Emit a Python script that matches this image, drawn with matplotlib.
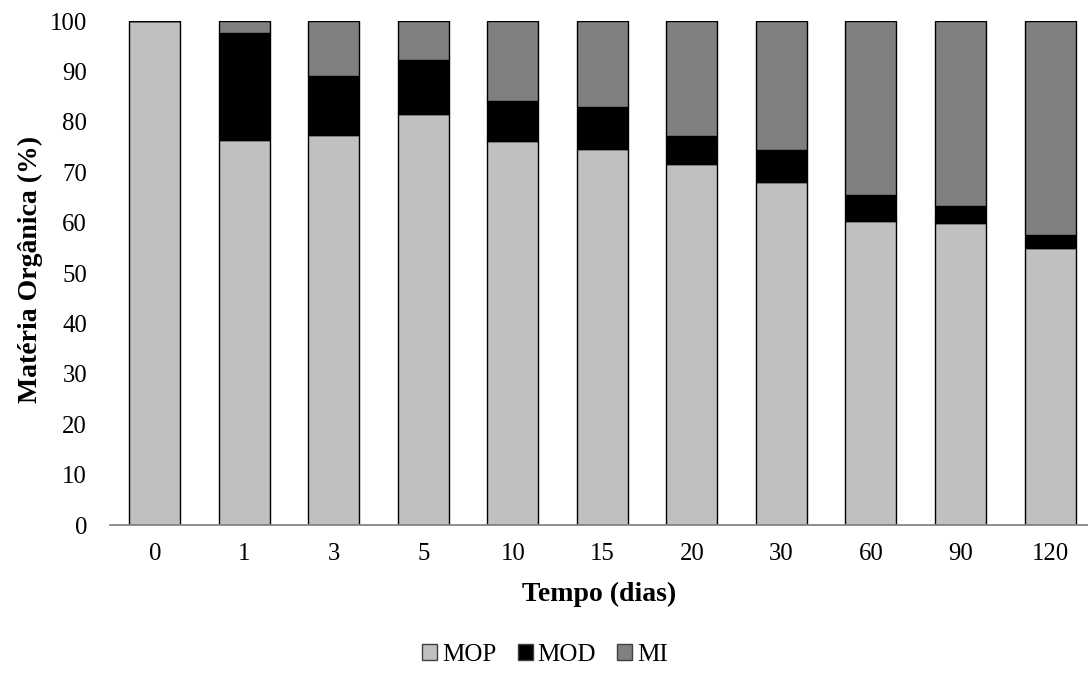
import numpy as np
import matplotlib.pyplot as plt

plt.rcParams['font.family'] = ['Liberation Serif', 'DejaVu Serif']

# tempo (dias)
dias = ['0', '1', '3', '5', '10', '15', '20', '30', '60', '90', '120']
# fracoes de materia organica (%)
mop = [100.0, 76.4, 77.4, 81.5, 76.2, 74.7, 71.6, 68.0, 60.4, 60.0, 54.9]
mod = [0.0, 21.2, 11.7, 10.7, 8.0, 8.3, 5.6, 6.4, 5.1, 3.2, 2.6]
mi = [100 - a - b for a, b in zip(mop, mod)]

W, H = 1088, 681
fig = plt.figure(figsize=(W / 100, H / 100), dpi=100)
ax = fig.add_axes([110 / W, 1 - 525 / H, (W - 110) / W, (525 - 21) / H])

x = np.arange(len(dias))
bw = 0.57
ax.bar(x, mop, bw, color='#c0c0c0', edgecolor='black', linewidth=1, label='MOP')
ax.bar(x, mod, bw, bottom=mop, color='black', edgecolor='black', linewidth=1, label='MOD')
ax.bar(x, mi, bw, bottom=np.add(mop, mod), color='#808080', edgecolor='black',
       linewidth=1, label='MI')

ax.set_xlim(-0.5, 10.5 - 6.8 / 89.6)
ax.set_ylim(0, 100)
ax.set_yticks(range(0, 101, 10))
ax.set_xticks(x)
ax.set_xticklabels(dias)
ax.tick_params(axis='both', length=0, labelsize=17.8)
ax.tick_params(axis='x', pad=13)
ax.tick_params(axis='y', pad=16.5)

for s in ['top', 'right', 'left']:
    ax.spines[s].set_visible(False)
ax.spines['bottom'].set_color('#868686')
ax.spines['bottom'].set_linewidth(1.3)

ax.set_xlabel('Tempo (dias)', fontsize=20, fontweight='bold', labelpad=12)
ax.set_ylabel('Matéria Orgânica (%)', fontsize=20, fontweight='bold', labelpad=5)
ax.yaxis.label.set_y(0.508)

leg = ax.legend(loc='center', bbox_to_anchor=(545 / W, 1 - 655 / H),
                bbox_transform=fig.transFigure, ncol=3, frameon=False,
                fontsize=18, handlelength=0.6, handleheight=0.6,
                handletextpad=0.2, columnspacing=0.85)
for h in leg.legend_handles:
    h.set_linewidth(1)
    h.set_edgecolor('#404040')

fig.savefig('out.png', dpi=100)
